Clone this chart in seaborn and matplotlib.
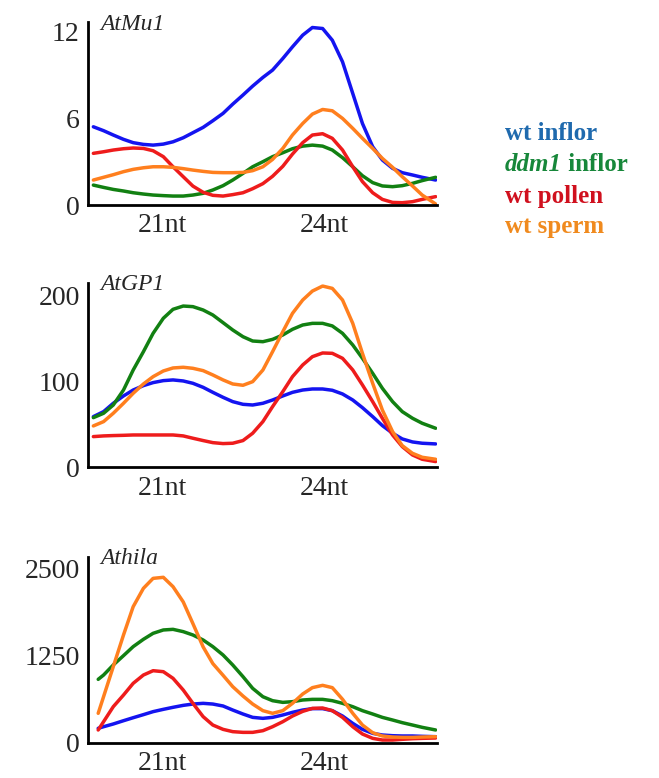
import pandas as pd
import numpy as np
import matplotlib
matplotlib.use("Agg")
import matplotlib.pyplot as plt
import seaborn as sns

# size positions (nt)
x_nt = [19.71, 19.90, 20.08, 20.27, 20.45, 20.64, 20.82, 21.01, 21.19, 21.38,
        21.56, 21.75, 21.93, 22.12, 22.30, 22.49, 22.67, 22.86, 23.04, 23.23,
        23.41, 23.60, 23.78, 23.97, 24.15, 24.34, 24.53, 24.71, 24.90, 25.08,
        25.27, 25.45, 25.64, 25.82, 26.07]
x_athila = [19.80] + x_nt[1:]

groups = ["wt inflor", "ddm1 inflor", "wt pollen", "wt sperm"]
line_colors = ["#1414f0", "#128012", "#ee1c1c", "#ff7f1e"]
text_colors = ["#1f6aae", "#17873a", "#d0101e", "#f08a1e"]

# AtMu1
atmu1_wt_inflor = [5.42, 5.15, 4.85, 4.55, 4.32, 4.2, 4.15, 4.22, 4.38, 4.66, 5.01, 5.38, 5.84, 6.35, 6.99, 7.62, 8.24, 8.84,
                   9.35, 10.15, 10.96, 11.77, 12.3, 12.23, 11.42, 9.92, 7.73, 5.65, 4.04, 3.12, 2.54, 2.24, 2.08, 1.92, 1.73]
atmu1_ddm1_inflor = [1.38, 1.22, 1.08, 0.97, 0.85, 0.76, 0.69, 0.65, 0.62, 0.62, 0.69, 0.81, 1.04, 1.34, 1.73, 2.19, 2.65, 3.0,
                     3.35, 3.62, 3.9, 4.08, 4.15, 4.08, 3.81, 3.28, 2.65, 2.03, 1.55, 1.32, 1.27, 1.34, 1.5, 1.69, 1.92]
atmu1_wt_pollen = [3.58, 3.69, 3.81, 3.9, 3.95, 3.92, 3.76, 3.35, 2.65, 1.96, 1.31, 0.88, 0.67, 0.62, 0.72, 0.85, 1.13, 1.48,
                   1.99, 2.68, 3.53, 4.32, 4.85, 4.94, 4.62, 3.81, 2.65, 1.62, 0.85, 0.39, 0.18, 0.16, 0.23, 0.39, 0.58]
atmu1_wt_sperm = [1.73, 1.92, 2.1, 2.31, 2.47, 2.58, 2.65, 2.65, 2.61, 2.52, 2.42, 2.33, 2.26, 2.24, 2.24, 2.26, 2.38, 2.65,
                  3.16, 3.92, 4.85, 5.65, 6.3, 6.62, 6.53, 6.0, 5.31, 4.62, 3.92, 3.23, 2.61, 1.96, 1.32, 0.69, 0.07]

# AtGP1
atgp1_wt_inflor = [58.8, 64.6, 74.3, 82.8, 89.7, 94.8, 98.3, 100.6, 101.4, 100.2, 97.5, 92.8, 87, 81.2, 76.2, 73.1, 72.3, 74.3,
                   78.1, 82.8, 87, 89.7, 90.9, 90.9, 89.4, 85.1, 78.1, 69.2, 58.8, 48.4, 39.5, 32.9, 29.4, 27.9, 27.1]
atgp1_ddm1_inflor = [57.6, 62.7, 72.3, 89.7, 112.9, 134.2, 155.5, 173, 183.4, 187.2, 186.5, 182.6, 176.8, 167.9, 159.4, 151.6,
                     146.6, 145.8, 148.5, 153.6, 160.2, 165.2, 167.1, 167.1, 164.1, 155.5, 142, 126.5, 109.1, 91.7, 76.2,
                     64.6, 56.9, 51.1, 45.3]
atgp1_wt_pollen = [35.6, 36.4, 36.8, 37.1, 37.5, 37.5, 37.5, 37.5, 37.5, 36.4, 33.7, 31, 28.6, 27.5, 27.9, 31, 39.5, 53,
                   70.4, 87.8, 105.2, 118.8, 128.4, 132.7, 132.3, 126.5, 113, 95.6, 76.2, 56.9, 37.5, 24, 14.3, 9.3, 6.6]
atgp1_wt_sperm = [48, 53, 62.7, 74.3, 85.9, 96.7, 105.2, 111.8, 115.3, 116.1, 114.9, 112.2, 107.2, 101.4, 96.7, 95.2, 99.4,
                  112.9, 134.2, 157.4, 178.7, 194.2, 204.6, 210.4, 207.7, 194.2, 167.1, 132.3, 97.5, 66.5, 41.4, 25.1,
                  16.2, 11.6, 9.3]

# Athila
athila_wt_inflor = [206, 229, 268, 315, 358, 402, 445, 478, 507, 535, 554, 564, 554, 526, 468, 411, 363, 349,
                    363, 397, 435, 468, 488, 488, 459, 382, 277, 191, 134, 110, 100, 96, 96, 91, 86]
athila_ddm1_inflor = [908, 970, 1114, 1248, 1377, 1482, 1568, 1616, 1625, 1592, 1544, 1472, 1377, 1257, 1114, 947, 779, 659,
                      602, 578, 588, 612, 621, 621, 602, 564, 516, 459, 411, 363, 325, 287, 253, 220, 182]
athila_wt_pollen = [182, 301, 516, 683, 851, 970, 1032, 1018, 923, 755, 564, 373, 253, 191, 158, 148, 148, 172,
                    229, 301, 382, 449, 492, 497, 459, 363, 229, 124, 62, 38, 38, 48, 57, 62, 67]
athila_wt_sperm = [421, 660, 1090, 1544, 1950, 2213, 2356, 2371, 2237, 2018, 1707, 1373, 1134, 966, 803, 669, 554, 459,
                   421, 459, 564, 698, 789, 822, 789, 622, 421, 253, 143, 96, 81, 76, 76, 81, 86]

panels = [
    ("AtMu1", x_nt, [atmu1_wt_inflor, atmu1_ddm1_inflor, atmu1_wt_pollen, atmu1_wt_sperm],
     [0, 6, 12], ["0", "6", "12"], 12.67),
    ("AtGP1", x_nt, [atgp1_wt_inflor, atgp1_ddm1_inflor, atgp1_wt_pollen, atgp1_wt_sperm],
     [0, 100, 200], ["0", "100", "200"], 214),
    ("Athila", x_athila, [athila_wt_inflor, athila_ddm1_inflor, athila_wt_pollen, athila_wt_sperm],
     [0, 1250, 2500], ["0", "1250", "2500"], 2666),
]

sns.set_style("white")
plt.rcParams["font.family"] = ["Liberation Serif", "DejaVu Serif"]

fig = plt.figure(figsize=(6.59, 7.78), dpi=100)
axes_rects = [
    [0.1335, 0.7365, 0.530, 0.2350],
    [0.1335, 0.3994, 0.530, 0.2369],
    [0.1335, 0.0454, 0.530, 0.2390],
]

for rect, (name, xs, series, yt, ytl, ytop) in zip(axes_rects, panels):
    ax = fig.add_axes(rect)
    df = pd.DataFrame({
        "size": np.tile(xs, len(groups)),
        "reads": np.concatenate(series),
        "group": np.repeat(groups, len(xs)),
    })
    sns.lineplot(data=df, x="size", y="reads", hue="group", hue_order=groups,
                 palette=line_colors, linewidth=2.5, legend=False, ax=ax,
                 sort=False, solid_joinstyle="round", solid_capstyle="round")
    ax.set_xlim(19.61, 26.1)
    ax.set_ylim(0, ytop)
    ax.set_xticks([21, 24])
    ax.set_xticklabels(["21nt", "24nt"], fontsize=20)
    ax.set_yticks(yt)
    ax.set_yticklabels(ytl, fontsize=20)
    ax.tick_params(length=0, pad=6)
    ax.tick_params(axis="x", pad=6)
    ax.set_xlabel("")
    ax.set_ylabel("")
    sns.despine(ax=ax)
    for s in ["left", "bottom"]:
        ax.spines[s].set_linewidth(2)
        ax.spines[s].set_color("black")
    ax.text(0.035, 0.99, name, transform=ax.transAxes, fontsize=17,
            style="italic", va="center", ha="left")

# legend as coloured text
leg_y = [0.829, 0.788, 0.748, 0.709]
for i, (g, c) in enumerate(zip(groups, text_colors)):
    if g.startswith("ddm1"):
        t = fig.text(0.766, leg_y[i], "ddm1", color=c, fontsize=18,
                     style="italic", fontweight="bold", va="center", ha="left")
        fig.canvas.draw()
        fig.axes[0].annotate(" inflor", xy=(1, 0.5), xycoords=t, color=c,
                             fontsize=18, fontweight="bold", va="center", ha="left")
    else:
        fig.text(0.766, leg_y[i], g, color=c, fontsize=18, fontweight="bold",
                 va="center", ha="left")

fig.savefig("out.png", dpi=100)
